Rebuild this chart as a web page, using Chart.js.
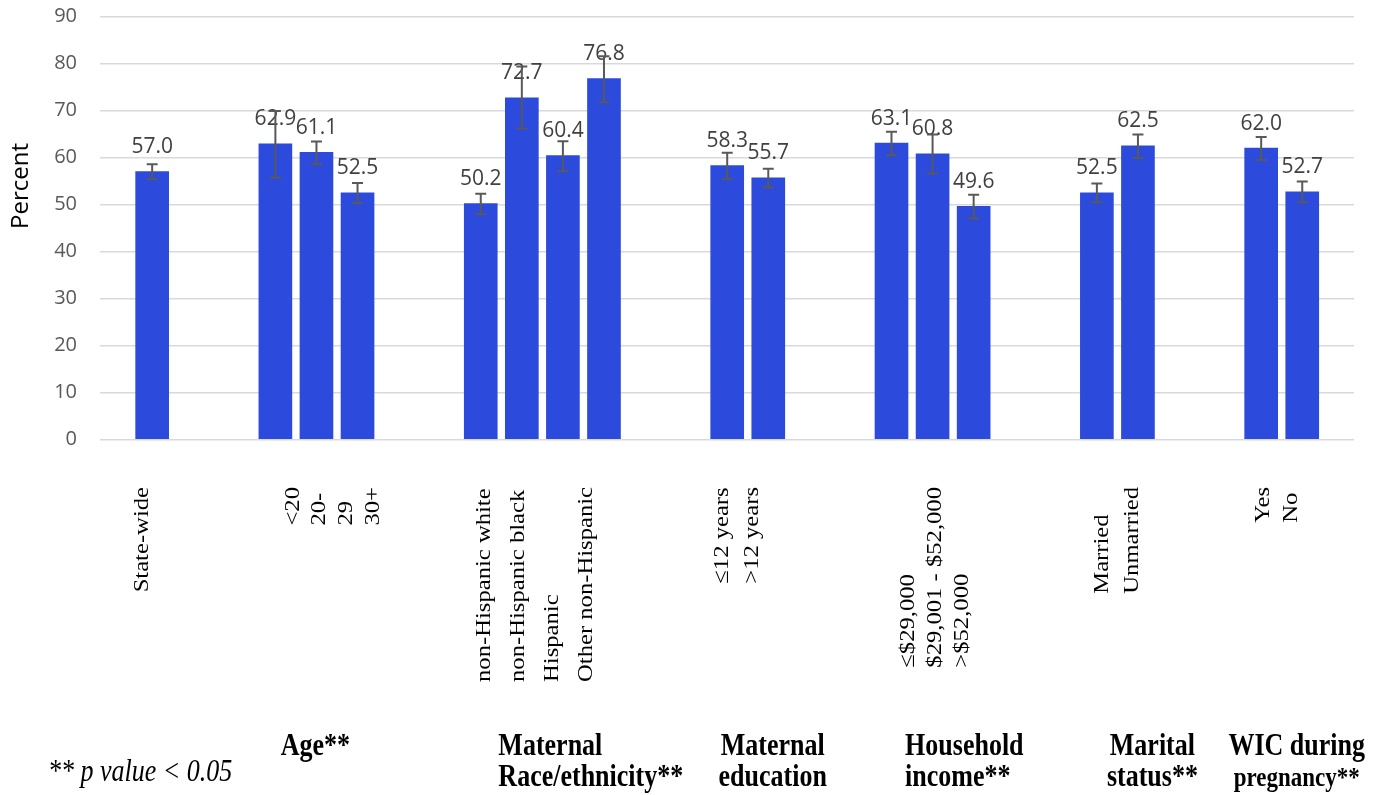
<!DOCTYPE html>
<html><head><meta charset="utf-8">
<script src="https://cdn.jsdelivr.net/npm/chart.js@4.4.1/dist/chart.umd.min.js"></script>
<style>html,body{margin:0;padding:0;background:#fff;}#wrap{width:1379px;height:795px;}</style>
</head><body><div id="wrap"><canvas id="c" width="1379" height="795"></canvas></div>
<script>
// ---------- data ----------
const categories = [
  ['State-wide'],
  ['<20'], ['20-', '29'], ['30+'],
  ['non-Hispanic white'], ['non-Hispanic black'], ['Hispanic'], ['Other non-Hispanic'],
  ['≤12 years'], ['>12 years'],
  ['≤$29,000'], ['$29,001 - $52,000'], ['>$52,000'],
  ['Married'], ['Unmarried'],
  ['Yes'], ['No']
];
const groupSizes = [1, 3, 4, 2, 3, 2, 2];
const groupTitles = [
  [],
  ['Age**'],
  ['Maternal', 'Race/ethnicity**'],
  ['Maternal', 'education'],
  ['Household', 'income**'],
  ['Marital', 'status**'],
  ['WIC during', 'pregnancy**']
];
const values = [57.0, 62.9, 61.1, 52.5, 50.2, 72.7, 60.4, 76.8, 58.3, 55.7, 63.1, 60.8, 49.6, 52.5, 62.5, 62.0, 52.7];
const ciLow  = [55.4, 55.7, 58.6, 50.3, 48.0, 66.2, 57.1, 71.8, 55.4, 53.6, 60.5, 56.6, 47.0, 50.5, 59.9, 59.5, 50.5];
const ciHigh = [58.6, 69.9, 63.4, 54.6, 52.3, 79.4, 63.5, 81.6, 61.0, 57.6, 65.5, 64.9, 52.1, 54.5, 64.9, 64.4, 54.9];
const yTicks = [0, 10, 20, 30, 40, 50, 60, 70, 80, 90];
const yTitle = 'Percent';
const footnote = '** p value < 0.05';

// ---------- derived slots (2 empty slots between groups) ----------
const groupOf = groupSizes.flatMap((n, g) => Array(n).fill(g));
const slotOf = groupOf.map((g, i) => i + 2 * g);

// ---------- layout / style (not data) ----------
const tickLayout = [
  { dx: -9.5, gap: 0 }, { dx: 16.5, gap: 26.7 }, { dx: -7, gap: 34 }, { dx: -11, gap: 30 },
  { dx: 2.5, gap: 27 }, { dx: 0, gap: 30 }, { dx: -4, gap: 28 }
];
const titleLayout = [
  null,
  { dx: -1, align: 'center', sizes: [26] },
  { dx: -44, align: 'left', sizes: [26, 26] },
  { dx: 25, align: 'center', sizes: [26, 26] },
  { dx: -27.5, align: 'left', sizes: [26, 26] },
  { dx: 35, align: 'center', sizes: [26, 26] },
  { dx: 15, align: 'center', sizes: [26, 23] }
];
const SERIF = '"Liberation Serif", "Times New Roman", serif';
const SANS = '"Open Sans", "Noto Sans", sans-serif';
const LABEL_STRETCH = 1.12, TITLE_STRETCH = 1.2, LABEL_TOP = 487;

const overlay = {
  id: 'overlay',
  afterDatasetsDraw(chart) {
    const ctx = chart.ctx, ys = chart.scales.y;
    const meta = chart.getDatasetMeta(0);
    ctx.save();
    ctx.font = '21px ' + SANS;
    ctx.fillStyle = '#404040';
    ctx.textAlign = 'center';
    ctx.textBaseline = 'alphabetic';
    meta.data.forEach((bar, i) => ctx.fillText(values[i].toFixed(1), bar.x, bar.y - 18.5));
    ctx.strokeStyle = '#595959';
    ctx.lineWidth = 2;
    meta.data.forEach((bar, i) => {
      const lo = ys.getPixelForValue(ciLow[i]), hi = ys.getPixelForValue(ciHigh[i]);
      ctx.beginPath();
      ctx.moveTo(bar.x, lo); ctx.lineTo(bar.x, hi);
      ctx.moveTo(bar.x - 5.5, lo); ctx.lineTo(bar.x + 5.5, lo);
      ctx.moveTo(bar.x - 5.5, hi); ctx.lineTo(bar.x + 5.5, hi);
      ctx.stroke();
    });
    ctx.restore();
  },
  afterDraw(chart) {
    const ctx = chart.ctx, xs = chart.scales.x;
    ctx.save();
    ctx.fillStyle = '#000';
    ctx.font = '22px ' + SERIF;
    let start = 0;
    groupSizes.forEach((n, g) => {
      const idx = Array.from({ length: n }, (_, k) => start + k);
      const lines = idx.flatMap(i => categories[i]);
      const center = (xs.getPixelForValue(slotOf[idx[0]]) + xs.getPixelForValue(slotOf[idx[n - 1]])) / 2;
      const cx = center + tickLayout[g].dx;
      ctx.font = '22px ' + SERIF;
      const maxLen = Math.max(...lines.map(l => ctx.measureText(l).width)) * LABEL_STRETCH;
      const bottom = LABEL_TOP + maxLen;
      lines.forEach((l, j) => {
        const lx = cx + (j - (lines.length - 1) / 2) * tickLayout[g].gap;
        ctx.save();
        ctx.translate(lx, bottom);
        ctx.rotate(-Math.PI / 2);
        ctx.scale(LABEL_STRETCH, 1);
        ctx.textAlign = 'left';
        ctx.textBaseline = 'middle';
        ctx.fillText(l, 0, 0);
        ctx.restore();
      });
      const t = groupTitles[g], lay = titleLayout[g];
      if (t.length) {
        const gx = center + lay.dx;
        t.forEach((line, j) => {
          ctx.save();
          ctx.font = 'bold ' + lay.sizes[j] + 'px ' + SERIF;
          ctx.textAlign = lay.align;
          ctx.textBaseline = 'alphabetic';
          ctx.translate(gx, 755 + j * 31);
          ctx.scale(1, TITLE_STRETCH);
          ctx.fillText(line, 0, 0);
          ctx.restore();
        });
      }
      start += n;
    });
    ctx.save();
    ctx.font = 'italic 26px ' + SERIF;
    ctx.textAlign = 'left';
    ctx.textBaseline = 'alphabetic';
    ctx.translate(48, 781);
    ctx.scale(1, TITLE_STRETCH);
    ctx.fillText(footnote, 0, 0);
    ctx.restore();
    ctx.save();
    ctx.font = '24px ' + SANS;
    ctx.fillStyle = '#000';
    ctx.translate(21, 186);
    ctx.rotate(-Math.PI / 2);
    ctx.textAlign = 'center';
    ctx.textBaseline = 'middle';
    ctx.fillText(yTitle, 0, 0);
    ctx.restore();
    ctx.restore();
  }
};

new Chart(document.getElementById('c'), {
  type: 'bar',
  data: {
    datasets: [{
      data: values.map((v, i) => ({ x: slotOf[i], y: v })),
      backgroundColor: '#2c4adb',
      borderWidth: 0,
      barThickness: 33
    }]
  },
  options: {
    responsive: false,
    animation: false,
    devicePixelRatio: 1,
    layout: { padding: { top: 16.7, right: 25, bottom: 355.7, left: 0 } },
    plugins: { legend: { display: false }, tooltip: { enabled: false } },
    scales: {
      x: { type: 'linear', display: false, min: -1.27, max: 29.26, offset: false, ticks: { stepSize: 1 } },
      y: {
        min: 0, max: 90,
        afterBuildTicks: s => { s.ticks = yTicks.map(v => ({ value: v })); },
        afterFit: s => { s.width = 100; s.paddingTop = 0; s.paddingBottom = 0; },
        ticks: { color: '#595959', font: { family: SANS, size: 20 }, padding: 23 },
        grid: { color: '#d9d9d9', lineWidth: 1.5, drawTicks: false },
        border: { display: false }
      }
    }
  },
  plugins: [overlay]
});
</script>
</body></html>
